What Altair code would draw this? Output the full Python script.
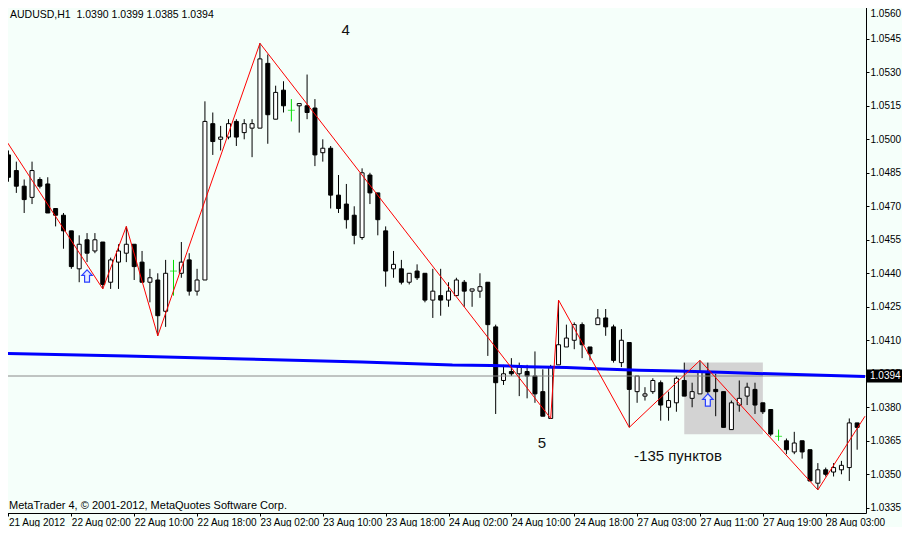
import altair as alt
import pandas as pd

# ---------------- data ----------------
opens = [1.0493,1.0486,1.0479,1.0474,1.0482,1.0480,1.0469,1.0466,1.0459,1.0442,
         1.0455,1.0450,1.0454,1.0436,1.0445,1.0449,1.0453,1.0445,1.0436,1.0437,
         1.0423,1.0441,1.0440,1.0446,1.0432,1.0437,1.0507,1.0500,1.0501,1.0508,
         1.0503,1.0505,1.0505,1.0534,1.0509,1.0522,1.0513,1.0515,1.0515,1.0514,
         1.0494,1.0496,1.0475,1.0471,1.0466,1.0456,1.0484,1.0476,1.0459,1.0442,
         1.0442,1.0436,1.0441,1.0440,1.0428,1.0430,1.0428,1.0430,1.0436,1.0432,
         1.0432,1.0436,1.0416,1.0392,1.0396,1.0395,1.0396,1.0394,1.0387,1.0375,
         1.0399,1.0407,1.0410,1.0417,1.0407,1.0417,1.0420,1.0416,1.0400,1.0409,
         1.0387,1.0385,1.0387,1.0391,1.0380,1.0382,1.0392,1.0384,1.0386,1.0396,
         1.0388,1.0387,1.0370,1.0381,1.0385,1.0388,1.0382,1.0379,1.0367,1.0365,
         1.0360,1.0365,1.0361,1.0346,1.0352,1.0351,1.0352,1.0353,1.0373]
highs = [1.0495,1.0490,1.0482,1.0490,1.0483,1.0483,1.0469,1.0467,1.0459,1.0457,
         1.0458,1.0458,1.0454,1.0447,1.0453,1.0461,1.0453,1.0450,1.0442,1.0440,
         1.0446,1.0446,1.0454,1.0449,1.0442,1.0517,1.0512,1.0506,1.0509,1.0509,
         1.0509,1.0509,1.0543,1.0538,1.0524,1.0526,1.0518,1.0516,1.0529,1.0518,
         1.0500,1.0497,1.0484,1.0480,1.0470,1.0487,1.0485,1.0476,1.0461,1.0450,
         1.0446,1.0440,1.0444,1.0440,1.0442,1.0442,1.0436,1.0438,1.0437,1.0433,
         1.0440,1.0436,1.0417,1.0399,1.0402,1.0400,1.0399,1.0405,1.0397,1.0399,
         1.0428,1.0417,1.0418,1.0418,1.0407,1.0424,1.0424,1.0417,1.0415,1.0409,
         1.0394,1.0389,1.0393,1.0392,1.0387,1.0394,1.0400,1.0391,1.0401,1.0400,
         1.0395,1.0387,1.0383,1.0392,1.0391,1.0391,1.0382,1.0379,1.0370,1.0366,
         1.0369,1.0365,1.0361,1.0355,1.0353,1.0355,1.0356,1.0375,1.0373]
lows = [1.0481,1.0476,1.0467,1.0471,1.0478,1.0467,1.0461,1.0451,1.0442,1.0436,
        1.0445,1.0449,1.0433,1.0433,1.0433,1.0445,1.0437,1.0436,1.0427,1.0412,
        1.0416,1.0430,1.0438,1.0430,1.0430,1.0437,1.0493,1.0495,1.0500,1.0497,
        1.0500,1.0492,1.0505,1.0498,1.0509,1.0512,1.0508,1.0503,1.0509,1.0488,
        1.0490,1.0469,1.0467,1.0460,1.0453,1.0455,1.0471,1.0457,1.0434,1.0438,
        1.0435,1.0435,1.0437,1.0427,1.0420,1.0421,1.0425,1.0430,1.0425,1.0425,
        1.0429,1.0403,1.0377,1.0390,1.0394,1.0385,1.0384,1.0382,1.0376,1.0375,
        1.0399,1.0407,1.0406,1.0402,1.0401,1.0417,1.0412,1.0400,1.0398,1.0371,
        1.0382,1.0383,1.0386,1.0374,1.0374,1.0378,1.0385,1.0380,1.0386,1.0386,
        1.0376,1.0371,1.0370,1.0378,1.0381,1.0377,1.0377,1.0367,1.0365,1.0359,
        1.0359,1.0357,1.0347,1.0343,1.0349,1.0349,1.0350,1.0347,1.0361]
closes = [1.0483,1.0479,1.0473,1.0486,1.0479,1.0467,1.0466,1.0459,1.0443,1.0453,
          1.0449,1.0455,1.0435,1.0446,1.0450,1.0453,1.0443,1.0436,1.0438,1.0421,
          1.0440,1.0441,1.0445,1.0432,1.0437,1.0508,1.0499,1.0501,1.0507,1.0501,
          1.0507,1.0507,1.0536,1.0511,1.0521,1.0515,1.0513,1.0516,1.0512,1.0493,
          1.0496,1.0475,1.0469,1.0464,1.0457,1.0485,1.0476,1.0464,1.0441,1.0444,
          1.0436,1.0440,1.0438,1.0428,1.0432,1.0428,1.0432,1.0437,1.0432,1.0433,
          1.0434,1.0417,1.0391,1.0395,1.0395,1.0398,1.0394,1.0386,1.0376,1.0398,
          1.0408,1.0411,1.0417,1.0408,1.0404,1.0420,1.0416,1.0401,1.0410,1.0388,
          1.0394,1.0386,1.0392,1.0381,1.0383,1.0393,1.0385,1.0387,1.0396,1.0387,
          1.0387,1.0371,1.0382,1.0384,1.0389,1.0381,1.0378,1.0368,1.0367,1.0361,
          1.0364,1.0360,1.0347,1.0352,1.0350,1.0353,1.0354,1.0373,1.0371]

time_labels = ["21 Aug 2012", "22 Aug 02:00", "22 Aug 10:00", "22 Aug 18:00",
               "23 Aug 02:00", "23 Aug 10:00", "23 Aug 18:00", "24 Aug 02:00",
               "24 Aug 10:00", "24 Aug 18:00", "27 Aug 03:00", "27 Aug 11:00",
               "27 Aug 19:00", "28 Aug 03:00"]
price_ticks = [round(1.0335 + 0.0015 * k, 4) for k in range(16)]

# moving average (blue)
ma_bars = [-1, 15, 30, 45, 56.5, 61.4, 66, 71, 75.6, 80.25, 85, 89.6, 94.4, 100.25, 109]
ma_vals = [1.04042, 1.04030, 1.04016, 1.04003, 1.03989, 1.03987, 1.03982, 1.03978,
           1.03971, 1.03966, 1.03962, 1.03958, 1.03952, 1.03947, 1.03938]

# zigzag (red)
zz_bars = [-0.4, 12, 15, 19, 32, 69, 70, 79, 88, 103, 109]
zz_vals = [1.0500, 1.0433, 1.0461, 1.0412, 1.0543, 1.0375, 1.0428, 1.0371, 1.0401, 1.0343, 1.0376]

# arrows
arrow_bars = [10, 89]
arrow_vals = [1.04388, 1.03833]

# grey rectangle object
box_bars = [86, 96]
box_vals = [1.0400, 1.03679]

current_price = 1.0394

notes_text = ["4", "5", "-135 пунктов"]
notes_bars = [42.9, 67.9, 85.2]
notes_vals = [1.05490, 1.03640, 1.03582]

# ---------------- frames ----------------
n = len(opens)
df = pd.DataFrame({"bar": list(range(n)), "open": opens, "high": highs,
                   "low": lows, "close": closes})
df["kind"] = ["bull" if c > o else ("bear" if c < o else "doji") for o, c in zip(opens, closes)]
ma_df = pd.DataFrame({"bar": ma_bars, "price": ma_vals})
zz_df = pd.DataFrame({"bar": zz_bars, "price": zz_vals})
ar_df = pd.DataFrame({"bar": arrow_bars, "price": arrow_vals})
box_df = pd.DataFrame({"b0": [box_bars[0]], "b1": [box_bars[1]],
                       "p0": [box_vals[0]], "p1": [box_vals[1]]})
cp_df = pd.DataFrame({"price": [current_price], "lo": [current_price - 0.00029],
                      "hi": [current_price + 0.00029], "txt": [f"{current_price:.4f}"]})
notes_df = pd.DataFrame({"bar": notes_bars, "price": notes_vals, "txt": notes_text})

W, H = 865, 512
STEP = 7.95
PX = 0.00004478          # price per pixel
TOP = 1.056193
FONT = "Liberation Sans"
x0 = -2.5 / STEP
x_scale = alt.Scale(domain=[x0, x0 + W / STEP], nice=False, zero=False)
y_scale = alt.Scale(domain=[TOP - H * PX, TOP], nice=False, zero=False)

label_arr = "[" + ",".join("'" + t + "'" for t in time_labels) + "]"
x_axis = alt.Axis(values=[8 * k for k in range(len(time_labels))],
                  labelExpr=label_arr + "[round(datum.value/8)]",
                  labelAlign="left", labelBaseline="top", tickSize=3, labelPadding=1,
                  labelFont=FONT, labelFontSize=10, labelColor="black", tickColor="black",
                  domain=False, grid=False, title=None, labelOverlap=False, labelFlush=False)
y_axis = alt.Axis(orient="right", values=price_ticks, format=".4f", tickSize=3,
                  labelPadding=1, labelFont=FONT, labelFontSize=10, labelColor="black",
                  tickColor="black", domain=False, grid=False, title=None,
                  labelOverlap=False, labelFlush=5, labelFlushOffset=-3)


def X(f="bar"):
    return alt.X(f + ":Q", scale=x_scale, axis=x_axis)


def Y(f):
    return alt.Y(f + ":Q", scale=y_scale, axis=y_axis)


box = alt.Chart(box_df).mark_rect(color="#D3D3D3").encode(
    x=X("b0"), x2="b1:Q", y=Y("p0"), y2="p1:Q")

normal = alt.Chart(df).transform_filter("datum.kind != 'doji'")
wicks = normal.mark_rule(color="black", strokeWidth=1).encode(
    x=X(), y=Y("low"), y2="high:Q")
bodies = normal.mark_bar(size=4, stroke="black", strokeWidth=1).encode(
    x=X(), y=Y("open"), y2="close:Q",
    fill=alt.condition("datum.kind == 'bull'", alt.value("white"), alt.value("black")))

doji = alt.Chart(df).transform_filter("datum.kind == 'doji'")
doji_w = doji.mark_rule(color="#00DD00", strokeWidth=1).encode(
    x=X(), y=Y("low"), y2="high:Q")
doji_t = doji.mark_tick(color="#00DD00", orient="horizontal", size=7, thickness=1).encode(
    x=X(), y=Y("close"))

price_line = alt.Chart(cp_df).mark_rule(color="#8A8A8A", strokeWidth=1).encode(
    y=Y("price"), x=alt.value(0), x2=alt.value(W))

ma = alt.Chart(ma_df).mark_line(color="#0000FF", strokeWidth=3, clip=True).encode(
    x=X(), y=Y("price"))
zz = alt.Chart(zz_df).mark_line(color="#FF0000", strokeWidth=1, clip=True).encode(
    x=X(), y=Y("price"))

arrow_path = "M0,-1 L0.85,-0.1 L0.4,-0.1 L0.4,1 L-0.4,1 L-0.4,-0.1 L-0.85,-0.1 Z"
arrows = alt.Chart(ar_df).mark_point(shape=arrow_path, size=150, filled=True,
                                     fill="#E8ECFF", stroke="#2A40FF", strokeWidth=1.2,
                                     opacity=1).encode(x=X(), y=Y("price"))

notes = alt.Chart(notes_df).mark_text(font=FONT, fontSize=15, color="#111111",
                                      align="center", baseline="middle").encode(
    x=X(), y=Y("price"), text="txt:N")

cp_box = alt.Chart(cp_df).mark_rect(color="black").encode(
    y=Y("lo"), y2="hi:Q", x=alt.value(W + 1), x2=alt.value(W + 36))
cp_txt = alt.Chart(cp_df).mark_text(font=FONT, fontSize=10, color="white",
                                    align="left", baseline="middle").encode(
    y=Y("price"), x=alt.value(W + 4), text="txt:N")

title_df = pd.DataFrame({"t": ["AUDUSD,H1\u00a0 1.0390 1.0399 1.0385 1.0394"]})
title = alt.Chart(title_df).mark_text(font=FONT, fontSize=10.5, color="black",
                                      align="left", baseline="middle").encode(
    x=alt.value(9), y=alt.value(14), text="t:N")
copy_df = pd.DataFrame({"t": ["MetaTrader 4, © 2001-2012, MetaQuotes Software Corp."]})
copyr = alt.Chart(copy_df).mark_text(font=FONT, fontSize=11, color="black",
                                     align="left", baseline="middle").encode(
    x=alt.value(8), y=alt.value(H - 7), text="t:N")

chart = alt.layer(box, wicks, bodies, doji_w, doji_t, price_line, ma, zz, arrows,
                  notes, cp_box, cp_txt, title, copyr).properties(
    width=W, height=H,
    autosize=alt.AutoSizeParams(type="none"),
    padding={"left": -7, "top": -7, "right": 36, "bottom": 14},
    background="#F5FFFA",
).configure_view(stroke="black", strokeWidth=1, fill="#F5FFFA")

chart.save("out.html", embed_options={"renderer": "svg", "actions": False})
